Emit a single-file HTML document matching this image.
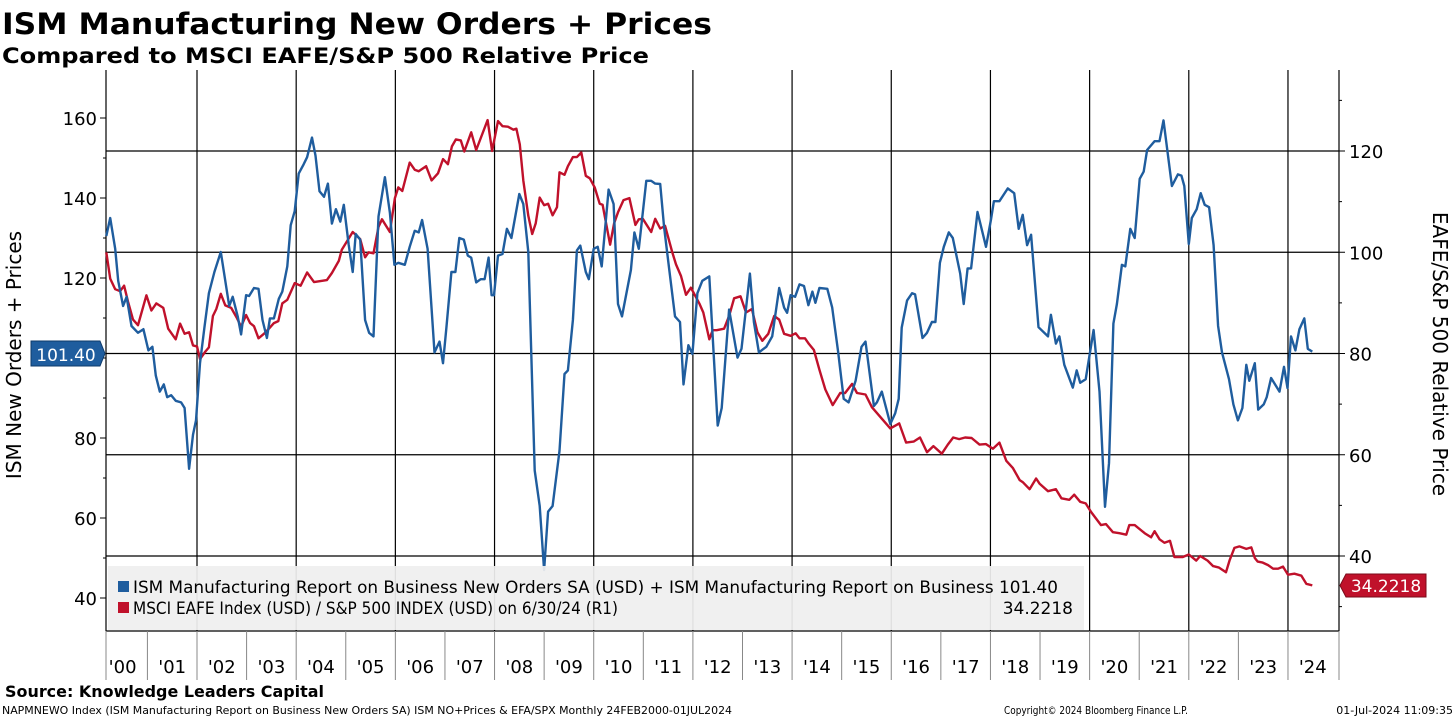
<!DOCTYPE html>
<html><head><meta charset="utf-8">
<style>
html,body{margin:0;padding:0;background:#fff;}
svg{display:block;font-family:"DejaVu Sans","Liberation Sans",sans-serif;}
</style></head>
<body>
<svg id="chart" width="1456" height="719" viewBox="0 0 1456 719" xmlns="http://www.w3.org/2000/svg">
<text x="2" y="34" font-size="29" font-weight="bold" textLength="710" lengthAdjust="spacingAndGlyphs">ISM Manufacturing New Orders + Prices</text>
<text x="2" y="63" font-size="21" font-weight="bold" textLength="647" lengthAdjust="spacingAndGlyphs">Compared to MSCI EAFE/S&amp;P 500 Relative Price</text>
<g id="grid"></g>
<g id="axes"></g>
<g id="series"></g>
<g>
<rect x="108" y="566" width="976" height="64" fill="#efefef" opacity="0.93"/>
<rect x="118" y="581" width="11" height="11" fill="#1f5d9e"/>
<text x="133" y="593" font-size="17" textLength="925" lengthAdjust="spacingAndGlyphs">ISM Manufacturing Report on Business New Orders SA (USD) + ISM Manufacturing Report on Business 101.40</text>
<rect x="118" y="602" width="11" height="11" fill="#c0112b"/>
<text x="133" y="614" font-size="17" textLength="485" lengthAdjust="spacingAndGlyphs">MSCI EAFE Index (USD) / S&amp;P 500 INDEX (USD) on 6/30/24 (R1)</text>
<text x="1073" y="614" font-size="17" text-anchor="end">34.2218</text>
</g>
<text transform="translate(21,355) rotate(-90)" font-size="20" text-anchor="middle">ISM New Orders + Prices</text>
<text transform="translate(1433,354) rotate(90)" font-size="20" text-anchor="middle">EAFE/S&amp;P 500 Relative Price</text>
<g>
<path d="M31,341 H100 L105,353.5 L100,366 H31 Z" fill="#1f5d9e" stroke="#0e3a6a" stroke-width="1"/>
<text x="66" y="361" font-size="17" fill="#fff" text-anchor="middle">101.40</text>
</g>
<g>
<path d="M1346,574 H1426 V597 H1346 L1340,585.5 Z" fill="#c0112b" stroke="#7a0a1a" stroke-width="1"/>
<text x="1386" y="592" font-size="17" fill="#fff" text-anchor="middle">34.2218</text>
</g>
<text x="5" y="697" font-size="16" font-weight="bold" textLength="319" lengthAdjust="spacingAndGlyphs">Source: Knowledge Leaders Capital</text>
<text x="2" y="714" font-size="11" textLength="730" lengthAdjust="spacingAndGlyphs">NAPMNEWO Index (ISM Manufacturing Report on Business New Orders SA) ISM NO+Prices &amp; EFA/SPX  Monthly 24FEB2000-01JUL2024</text>
<text x="1004" y="714" font-size="11" textLength="184" lengthAdjust="spacingAndGlyphs">Copyright© 2024 Bloomberg Finance L.P.</text>
<text x="1453" y="714" font-size="11" text-anchor="end">01-Jul-2024 11:09:35</text>
</svg>
<script>
const ismDates=[2000.17,2000.25,2000.35,2000.41,2000.51,2000.58,2000.68,2000.81,2000.92,2001.02,2001.10,2001.17,2001.25,2001.33,2001.40,2001.48,2001.57,2001.68,2001.75,2001.84,2001.92,2001.98,2002.06,2002.15,2002.24,2002.35,2002.48,2002.65,2002.72,2002.82,2002.89,2002.99,2003.05,2003.15,2003.24,2003.32,2003.41,2003.47,2003.55,2003.65,2003.72,2003.82,2003.89,2003.97,2004.05,2004.15,2004.22,2004.32,2004.39,2004.47,2004.56,2004.64,2004.72,2004.80,2004.89,2004.96,2005.06,2005.14,2005.20,2005.29,2005.39,2005.47,2005.56,2005.66,2005.79,2005.89,2005.98,2006.06,2006.19,2006.29,2006.39,2006.47,2006.54,2006.65,2006.79,2006.89,2006.96,2007.03,2007.13,2007.21,2007.29,2007.38,2007.46,2007.53,2007.63,2007.72,2007.80,2007.88,2007.94,2007.99,2008.07,2008.16,2008.25,2008.34,2008.50,2008.58,2008.68,2008.81,2008.91,2009.00,2009.08,2009.17,2009.31,2009.41,2009.48,2009.58,2009.66,2009.73,2009.84,2009.90,2010.00,2010.08,2010.16,2010.30,2010.40,2010.49,2010.57,2010.75,2010.82,2010.91,2011.06,2011.16,2011.24,2011.34,2011.42,2011.52,2011.64,2011.74,2011.81,2011.91,2011.99,2012.09,2012.19,2012.33,2012.50,2012.58,2012.73,2012.90,2012.98,2013.15,2013.23,2013.33,2013.48,2013.60,2013.74,2013.84,2013.90,2013.97,2014.06,2014.15,2014.24,2014.33,2014.41,2014.47,2014.55,2014.71,2014.81,2014.93,2015.04,2015.14,2015.28,2015.40,2015.48,2015.65,2015.71,2015.81,2015.98,2016.08,2016.15,2016.21,2016.32,2016.42,2016.48,2016.63,2016.72,2016.82,2016.89,2016.98,2017.06,2017.16,2017.24,2017.39,2017.46,2017.54,2017.61,2017.74,2017.91,2018.01,2018.07,2018.18,2018.35,2018.48,2018.57,2018.65,2018.74,2018.82,2018.97,2019.16,2019.22,2019.32,2019.39,2019.49,2019.66,2019.74,2019.81,2019.92,2020.08,2020.20,2020.31,2020.39,2020.48,2020.55,2020.65,2020.72,2020.82,2020.91,2021.01,2021.09,2021.16,2021.31,2021.41,2021.49,2021.66,2021.78,2021.85,2021.91,2022.00,2022.06,2022.16,2022.24,2022.32,2022.41,2022.50,2022.59,2022.67,2022.81,2022.90,2022.99,2023.08,2023.16,2023.22,2023.33,2023.40,2023.51,2023.57,2023.66,2023.83,2023.92,2023.99,2024.06,2024.15,2024.23,2024.33,2024.40,2024.49];
const ismValues=[130.5,135,127.3,119.3,113,115.3,108,106.3,107.2,101.9,102.8,95.6,91.6,93.4,90.2,90.7,89.3,88.9,87.5,72.3,80.8,84.4,98.7,107.6,116.2,121.5,126.5,113,115.3,110.4,105.9,115.7,115.5,117.5,117.3,109.5,105,109.9,109.9,114.8,116.6,122.9,133.2,136.7,146.1,148.4,150.2,155.1,150.6,141.7,140.3,143.6,133.6,137.2,134.1,138.3,128.3,121.5,131,129.6,109.5,106.3,105.4,135.4,145.2,136.3,123.3,123.8,123.3,127.8,131.8,131.4,134.5,127.3,101.4,104.1,98.7,107.6,121.5,121.5,130,129.6,125.6,125.1,118.9,119.7,119.7,125.1,115.7,115.7,125.6,126,132.3,130,141,138.5,126.5,71.9,63,47,61.6,63,76.8,96,96.9,109.5,126.9,128.1,121.5,119.7,127.3,127.8,122.9,142.1,138.5,113.5,110.4,122,131.4,127.3,144.3,144.3,143.6,143.5,132.7,122.4,110.4,109,93.4,103.2,101,116.2,119.3,120.4,83.1,87.5,112.1,100.1,102.3,121.1,109,101.4,102.8,105.4,117.5,112.6,111.3,115.7,115.3,118.4,118,113.2,116.6,113.8,117.5,117.3,112.6,101.4,89.8,88.9,94.3,102.8,104.1,88,88.9,91.6,83.5,86.2,89.8,107.6,114.4,116.2,115.9,105,106.3,109,109,123.8,127.8,131.4,130,121.1,113.5,122.4,122.4,136.5,127.8,134.5,139.2,139.2,142.4,141.2,132.3,135.8,128.2,130.8,107.7,105.4,110.8,103.6,105.4,98.3,92.6,96.9,93.8,94.7,107,91.6,62.8,73.7,108.6,113.5,123.3,122.9,132.3,130,144.8,146.6,152,154.2,154.2,159.4,143,145.9,145.6,143,128.5,135,137.2,141.2,138.3,137.7,128.2,108,101.4,94.7,88.4,84.4,87.5,98.3,94.3,98.7,87.1,88.4,90.2,95,91.6,97.8,92.5,105.4,101.9,107.2,109.9,102.3,101.6];
const eafeDates=[2000.17,2000.25,2000.35,2000.45,2000.53,2000.61,2000.71,2000.81,2000.98,2001.08,2001.18,2001.32,2001.42,2001.57,2001.66,2001.75,2001.84,2001.92,2002.00,2002.06,2002.17,2002.24,2002.32,2002.39,2002.48,2002.57,2002.69,2002.80,2002.89,2002.99,2003.07,2003.15,2003.24,2003.35,2003.45,2003.55,2003.64,2003.72,2003.82,2003.97,2004.09,2004.22,2004.36,2004.62,2004.72,2004.86,2004.92,2005.14,2005.29,2005.39,2005.46,2005.56,2005.66,2005.73,2005.89,2005.99,2006.06,2006.14,2006.29,2006.39,2006.47,2006.62,2006.73,2006.86,2006.96,2007.06,2007.14,2007.22,2007.32,2007.39,2007.53,2007.63,2007.86,2007.95,2008.07,2008.16,2008.27,2008.38,2008.44,2008.51,2008.58,2008.68,2008.76,2008.83,2008.91,2009.00,2009.08,2009.17,2009.26,2009.31,2009.41,2009.48,2009.58,2009.66,2009.75,2009.84,2009.92,2010.02,2010.12,2010.18,2010.25,2010.33,2010.41,2010.49,2010.60,2010.72,2010.84,2010.91,2010.99,2011.16,2011.24,2011.34,2011.44,2011.58,2011.66,2011.76,2011.86,2011.96,2012.13,2012.21,2012.33,2012.40,2012.48,2012.63,2012.73,2012.83,2012.96,2013.07,2013.19,2013.30,2013.40,2013.52,2013.64,2013.74,2013.84,2013.97,2014.07,2014.15,2014.26,2014.34,2014.44,2014.55,2014.67,2014.82,2014.97,2015.07,2015.21,2015.31,2015.48,2015.61,2015.75,2015.98,2016.16,2016.30,2016.45,2016.58,2016.72,2016.85,2017.02,2017.14,2017.25,2017.37,2017.49,2017.62,2017.78,2017.91,2018.05,2018.18,2018.32,2018.45,2018.59,2018.65,2018.79,2018.92,2018.99,2019.16,2019.32,2019.43,2019.59,2019.69,2019.81,2019.92,2020.03,2020.23,2020.33,2020.47,2020.60,2020.74,2020.80,2020.91,2021.11,2021.24,2021.31,2021.41,2021.51,2021.62,2021.71,2021.88,2022.00,2022.15,2022.23,2022.38,2022.49,2022.61,2022.75,2022.82,2022.92,2023.02,2023.16,2023.26,2023.33,2023.39,2023.49,2023.60,2023.70,2023.80,2023.90,2024.00,2024.13,2024.27,2024.37,2024.49,2024.56];
const eafeValues=[100,94.8,92.7,92.3,93.4,90.2,86.7,85.6,91.5,88.5,89.9,89,84.9,82.8,85.9,83.9,84.2,81.6,81.4,78.9,80.4,81.2,87.4,88.8,91.8,89.5,89,87.1,85.3,87.6,86,85.4,83,83.9,84.9,86,86.4,89.9,90.6,93.9,93.4,96,94.1,94.5,95.9,98.3,100.5,104,102.6,99,100,99.8,105,106.5,104,110.7,112.8,112.1,117.7,116.3,116,117,114.2,115.6,118.4,117.4,120.9,122.3,122.1,119.9,123.7,120.2,126.1,120,125.9,124.9,124.8,124.2,124.4,121.3,114.2,107.2,103.6,105.7,110.8,109.3,109.6,107.3,108.9,115.8,115.3,117,118.8,118.8,119.7,115.1,114.6,112.8,109.6,109.4,105.7,101.5,105.7,107.9,110.3,110.7,105.4,106.5,106.6,104,106.6,104.7,105.2,100.1,97.6,95.3,91.6,93,89.9,88.1,82.8,84.6,84.6,84.9,87.4,90.9,91.3,88.1,88.8,84.2,82.5,83.9,87.4,86.7,83.9,83.5,84,83,83,81.9,80.7,76.8,72.9,69.8,72.2,72.2,74,72.2,71.9,69.4,67.8,65.2,66.2,62.4,62.6,63.4,60.5,61.7,60.2,62,63.4,63.1,63.4,63.3,62,62.1,61.2,62.4,58.8,57.4,55,54.6,53.2,55.3,54.3,52.8,53.2,51.4,51.1,52.1,50.7,50.4,48.7,46.1,46.3,44.7,44.5,44.2,46.1,46.1,44.5,43.7,44.9,43.3,42.6,43,39.8,39.8,40.3,39.1,40,39.1,38,37.7,36.8,39.1,41.6,41.9,41.4,41.7,39.6,38.9,38.7,38.2,37.5,37.5,37.9,36.3,36.5,36.1,34.5,34.2];
const leftTicks=[40,60,80,100,120,140,160];
const leftTickLabels=["40","60","80","","120","140","160"];
const rightTicks=[40,60,80,100,120];
const rightTickLabels=["40","60","80","100","120"];
const yearLabels=["'00","'01","'02","'03","'04","'05","'06","'07","'08","'09","'10","'11","'12","'13","'14","'15","'16","'17","'18","'19","'20","'21","'22","'23","'24"];

const NS="http://www.w3.org/2000/svg";
const L=106,R=1339,T=76,B=631;
function xs(t){return 197+(t-2002)*49.59;}
function yl(v){return 598-(v-40)*4;}
function yr(v){return 556-(v-40)*5.0625;}
function mk(tag,attrs,parent){const e=document.createElementNS(NS,tag);for(const k in attrs)e.setAttribute(k,attrs[k]);parent.appendChild(e);return e;}
const grid=document.getElementById('grid'),axes=document.getElementById('axes'),series=document.getElementById('series');
mk('rect',{x:L,y:T,width:R-L,height:B-T,fill:'#fff'},grid);
rightTicks.forEach(v=>{const ln=mk('line',{x1:L,x2:R,y1:yr(v),y2:yr(v),stroke:'#000','stroke-width':1.2},grid);

});
for(let yv=2002;yv<=2024;yv+=2){const ln=mk('line',{x1:xs(yv),x2:xs(yv),y1:T-6,y2:B,stroke:'#000','stroke-width':1.2},grid);

}
mk('line',{x1:L,x2:L,y1:T-6,y2:B,stroke:'#000','stroke-width':1.2},axes);
mk('line',{x1:R,x2:R,y1:T-6,y2:B,stroke:'#000','stroke-width':1.2},axes);
mk('line',{x1:L,x2:R,y1:B,y2:B,stroke:'#000','stroke-width':1.2},axes);
for(let v=40;v<=160;v+=10){const big=v%20===0;mk('line',{x1:L-(big?6:3),x2:L,y1:yl(v),y2:yl(v),stroke:'#000'},axes);}
leftTicks.forEach((v,i)=>{if(!leftTickLabels[i])return;const t=mk('text',{x:97,y:yl(v)+7,'font-size':18,'text-anchor':'end'},axes);t.textContent=leftTickLabels[i];

});
for(let v=30;v<=130;v+=10){const big=v%20===0;mk('line',{x1:R,x2:R+(big?6:3),y1:yr(v),y2:yr(v),stroke:'#000'},axes);}
rightTicks.forEach((v,i)=>{const t=mk('text',{x:1349,y:yr(v)+7,'font-size':18},axes);t.textContent=rightTickLabels[i];

});
for(let i=0;i<=yearLabels.length;i++){const x=i===0?L:(i===yearLabels.length?R:xs(2000+i));mk('line',{x1:x,x2:x,y1:B,y2:680,stroke:'#888','stroke-width':1},axes);}
yearLabels.forEach((s,i)=>{const t=mk('text',{x:xs(2000.5+i),y:673,'font-size':18,'text-anchor':'middle'},axes);t.textContent=s;

});
function path(d,v,yf){return d.map((t,i)=>(i?'L':'M')+xs(t).toFixed(1)+','+yf(v[i]).toFixed(1)).join('');}
const pr=mk('path',{d:path(eafeDates,eafeValues,yr),fill:'none',stroke:'#c0112b','stroke-width':2.4,'stroke-linejoin':'round'},series);


const pb=mk('path',{d:path(ismDates,ismValues,yl),fill:'none',stroke:'#1f5d9e','stroke-width':2.4,'stroke-linejoin':'round'},series);


</script>
</body></html>
